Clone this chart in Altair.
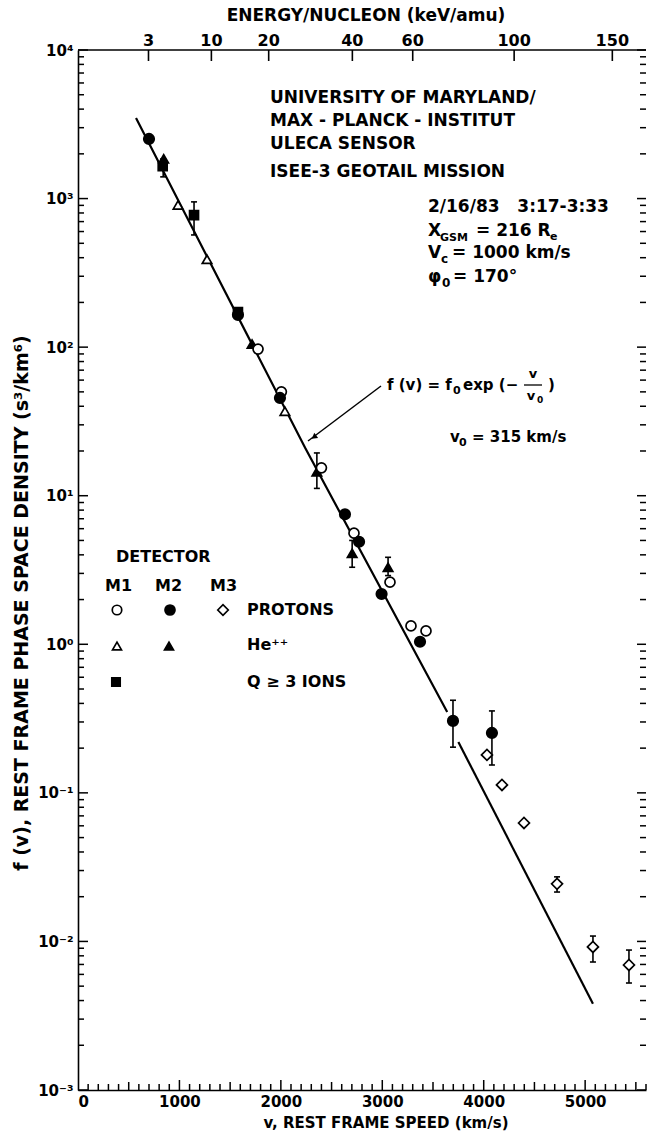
import altair as alt
import pandas as pd

FONT = "DejaVu Sans"
W, H = 568, 1040          # plot area
PL, PT = 78, 50           # padding left / top
NB = "\u00a0"

# ---------------- data ----------------
# M1 protons (open circles)
m1_prot_v = [1775, 2005, 2400, 2721, 3076, 3283, 3431]
m1_prot_f = [97, 50, 15.4, 5.6, 2.62, 1.33, 1.23]
# M2 protons (filled circles)
m2_prot_v = [700, 1577, 1991, 2632, 2771, 2993, 3372, 3697, 4081]
m2_prot_f = [2520, 165, 45.5, 7.5, 4.9, 2.18, 1.04, 0.305, 0.253]
# M3 protons (open diamonds)
m3_prot_v = [4032, 4180, 4397, 4723, 5077, 5432]
m3_prot_f = [0.18, 0.113, 0.0627, 0.0244, 0.00918, 0.00694]
# M1 He++ (open triangles)
m1_he_v = [986, 1272, 2040]
m1_he_f = [905, 390, 37]
# M2 He++ (filled triangles)
m2_he_v = [845, 1716, 2355, 2703, 3057]
m2_he_f = [1850, 105, 14.5, 4.1, 3.3]
# M1 Q>=3 ions (filled squares)
m1_q_v = [835, 1144, 1577]
m1_q_f = [1650, 774, 172]

# error bars
err_v = [840, 1144, 2355, 2703, 3057, 3697, 4081, 4723, 5077, 5432]
err_lo = [1400, 569, 11.2, 3.3, 2.9, 0.203, 0.154, 0.0215, 0.00727, 0.00525]
err_hi = [1850, 950, 19.4, 5.0, 3.85, 0.42, 0.356, 0.0272, 0.01087, 0.00875]

# fitted exponential f = f0 exp(-v/v0), drawn in two pieces
fit_v = [572, 2243, 3640, 3750, 5077]
fit_f = [3480, 20.8, 0.35, 0.22, 0.0038]
fit_seg = [1, 1, 1, 2, 2]

# axis ticks / labels
x_labels = [0, 1000, 2000, 3000, 4000, 5000]
y_decades = [1e-3, 1e-2, 1e-1, 1e0, 1e1, 1e2, 1e3, 1e4]
energy_labels = ["3", "10", "20", "40", "60", "100", "150"]
energy_v = [695, 1315, 1880, 2705, 3300, 4300, 5268]

x_minor = [v for v in range(100, 5700, 100) if v % 500 != 0]
x_mid = [v for v in range(500, 5700, 1000)]
x_major = [v for v in range(1000, 5700, 1000)]
y_minor = [m * d for d in y_decades[:-1] for m in range(2, 10)]

# ---------------- scales / axes ----------------
xscale = alt.Scale(domain=[0, 5600], nice=False, zero=False)
yscale = alt.Scale(type="log", domain=[1e-3, 1e4], nice=False)

sup = {4: "⁴", 3: "³", 2: "²", 1: "¹", 0: "⁰", -1: "⁻¹", -2: "⁻²", -3: "⁻³"}
expr = ""
for k in [4, 3, 2, 1, 0, -1, -2]:
    expr += f"datum.value > {0.5 * 10 ** k} ? '10{sup[k]}' : "
expr += "'10⁻³'"

xaxis = alt.Axis(values=x_labels, format="d", ticks=False, grid=False,
                 domain=True, domainColor="black", domainWidth=1.6,
                 labelFont=FONT, labelFontSize=15, labelFontWeight="bold",
                 labelColor="black", labelPadding=4, labelOverlap=False,
                 labelBound=False, title=None)
yaxis = alt.Axis(values=y_decades, labelExpr=expr, ticks=False, grid=False,
                 domain=True, domainColor="black", domainWidth=1.6,
                 labelFont=FONT, labelFontSize=15, labelFontWeight="bold",
                 labelColor="black", labelPadding=5, labelOverlap=False,
                 labelBound=False, title=None)

X = alt.X("v:Q", scale=xscale, axis=xaxis)
Y = alt.Y("f:Q", scale=yscale, axis=yaxis)

one = pd.DataFrame({"a": [0]})
layers = []

# ---------------- fit line ----------------
fit_df = pd.DataFrame({"v": fit_v, "f": fit_f, "seg": fit_seg})
layers.append(alt.Chart(fit_df).mark_line(color="black", strokeWidth=2.2).encode(
    x=X, y=Y, detail="seg:N"))

# ---------------- error bars ----------------
err_df = pd.DataFrame({"v": err_v, "f": err_lo, "f2": err_hi})
layers.append(alt.Chart(err_df).mark_rule(color="black", strokeWidth=1.6).encode(
    x=X, y=Y, y2="f2:Q"))
cap_df = pd.DataFrame({"v": err_v + err_v, "f": err_lo + err_hi})
layers.append(alt.Chart(cap_df).mark_point(shape="M-1,0L1,0", size=36, stroke="black",
                                           strokeWidth=1.6, filled=False, opacity=1).encode(x=X, y=Y))


def series(v, f, shape, filled, size):
    df = pd.DataFrame({"v": v, "f": f})
    return alt.Chart(df).mark_point(shape=shape, filled=True,
                                    fill="black" if filled else "white",
                                    stroke="black", strokeWidth=1.7,
                                    size=size, opacity=1, fillOpacity=1).encode(x=X, y=Y)


layers += [
    series(m1_q_v, m1_q_f, "square", True, 80),
    series(m1_he_v, m1_he_f, "triangle-up", False, 90),
    series(m2_he_v, m2_he_f, "triangle-up", True, 90),
    series(m1_prot_v, m1_prot_f, "circle", False, 100),
    series(m2_prot_v, m2_prot_f, "circle", True, 110),
    series(m3_prot_v, m3_prot_f, "diamond", False, 120),
]

# ---------------- inward ticks ----------------
def xticks(vals, length):
    df = pd.DataFrame({"v": vals})
    return alt.Chart(df).mark_rule(color="black", strokeWidth=1.5).encode(
        x=X, y=alt.value(H), y2=alt.value(H - length))


def yticks(vals, length, right=False):
    df = pd.DataFrame({"f": vals})
    x0 = W if right else 0
    x1 = W - length if right else length
    return alt.Chart(df).mark_rule(color="black", strokeWidth=1.5).encode(
        y=Y, x=alt.value(x0), x2=alt.value(x1))


layers += [xticks(x_minor, 6), xticks(x_mid, 8), xticks(x_major, 10),
           yticks(y_decades, 10), yticks(y_minor, 6),
           yticks(y_decades, 9, True), yticks(y_minor, 6, True)]

# top axis (energy / nucleon)
layers.append(alt.Chart(one).mark_rule(color="black", strokeWidth=1.6).encode(
    x=alt.value(0), x2=alt.value(W), y=alt.value(0)))
en_df = pd.DataFrame({"v": energy_v, "lab": energy_labels})
layers.append(alt.Chart(en_df).mark_rule(color="black", strokeWidth=1.6).encode(
    x=X, y=alt.value(0), y2=alt.value(11)))
layers.append(alt.Chart(en_df).mark_text(font=FONT, fontSize=16, fontWeight="bold",
                                         baseline="bottom", dy=-1, color="black").encode(
    x=X, y=alt.value(0), text="lab:N"))


# ---------------- text annotations ----------------
def txt(s, x, y, size=17, align="left", angle=0, weight="bold"):
    return alt.Chart(one).mark_text(text=s, font=FONT, fontSize=size, fontWeight=weight,
                                    align=align, baseline="middle", angle=angle,
                                    color="black").encode(
        x=alt.value(x - PL), y=alt.value(y - PT))


ytitle = "f (v), REST FRAME PHASE SPACE DENSITY (s³/km⁶)"
texts = [
    txt("ENERGY/NUCLEON (keV/amu)", 366, 16, 17, "center"),
    txt("v, REST FRAME SPEED (km/s)", 386, 1123, 15, "center"),
    txt(ytitle, 22, 603, 19, "center", 270),
    txt("UNIVERSITY OF MARYLAND/", 270, 98),
    txt("MAX - PLANCK - INSTITUT", 270, 121),
    txt("ULECA SENSOR", 270, 144),
    txt("ISEE-3 GEOTAIL MISSION", 270, 172),
    txt("2/16/83" + NB * 3 + "3:17-3:33", 428, 207),
    txt("X", 428, 231), txt("GSM", 440, 238, 11), txt("= 216 R", 476, 231), txt("e", 550, 237, 11),
    txt("V", 428, 253), txt("c", 441, 259, 12), txt("= 1000 km/s", 452, 253),
    txt("φ", 428, 277), txt("0", 442, 283, 12), txt("= 170°", 453, 277),
    txt("f (v) = f", 387, 385, 15), txt("0", 453, 391, 11), txt("exp (−", 463, 385, 15),
    txt("v", 533, 374, 13, "center"), txt("v", 531, 396, 13, "center"), txt("0", 537, 400, 9),
    txt(")", 548, 385, 15),
    txt("v", 450, 437, 15), txt("0", 459, 443, 11), txt("= 315 km/s", 472, 437, 15),
    txt("DETECTOR", 116, 557, 16),
    txt("M1", 105, 586, 16), txt("M2", 155, 586, 16), txt("M3", 210, 586, 16),
    txt("PROTONS", 247, 610, 16),
    txt("He⁺⁺", 247, 645, 16),
    txt("Q ≥ 3 IONS", 247, 682, 16),
]
layers += texts

# fraction bar and arrow
layers.append(alt.Chart(one).mark_rule(color="black", strokeWidth=1.3).encode(
    x=alt.value(524 - PL), x2=alt.value(542 - PL), y=alt.value(385 - PT)))
layers.append(alt.Chart(one).mark_rule(color="black", strokeWidth=1.5).encode(
    x=alt.value(381 - PL), x2=alt.value(308 - PL), y=alt.value(386 - PT), y2=alt.value(441 - PT)))
layers.append(alt.Chart(one).mark_point(shape="triangle-up", filled=True, fill="black",
                                        size=40, angle=233, opacity=1).encode(
    x=alt.value(314 - PL), y=alt.value(437 - PT)))


# legend symbols
def lsym(shape, filled, size, x, y):
    return alt.Chart(one).mark_point(shape=shape, filled=True,
                                     fill="black" if filled else "white", stroke="black",
                                     strokeWidth=1.7, size=size, opacity=1).encode(
        x=alt.value(x - PL), y=alt.value(y - PT))


layers += [
    lsym("circle", False, 90, 117, 610),
    lsym("circle", True, 100, 170, 610),
    lsym("diamond", False, 110, 223, 610),
    lsym("triangle-up", False, 80, 117, 646),
    lsym("triangle-up", True, 80, 169, 646),
    lsym("square", True, 70, 116, 682),
]

chart = alt.layer(*layers).properties(
    width=W, height=H,
    autosize=alt.AutoSizeParams(type="none"),
    padding={"left": PL, "top": PT, "right": 650 - PL - W, "bottom": 1137 - PT - H},
    background="white",
).configure_view(stroke=None)

chart.save("out.html", embed_options={"renderer": "svg", "actions": False})
